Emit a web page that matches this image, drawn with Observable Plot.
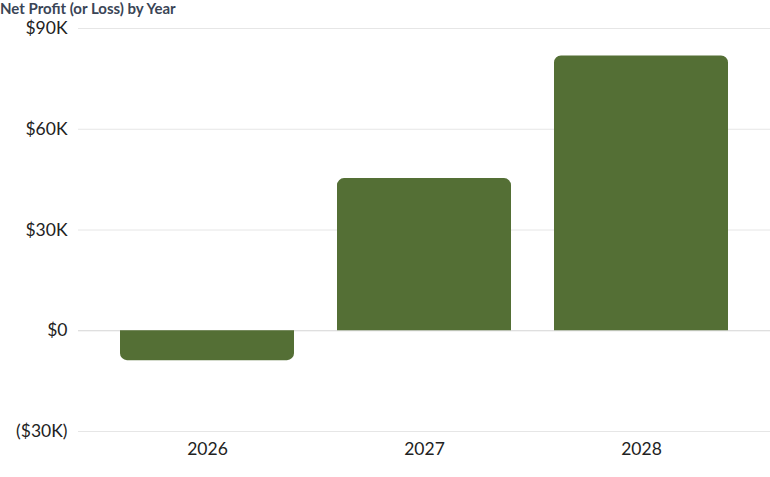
<!DOCTYPE html>
<html>
<head>
<meta charset="utf-8">
<script src="https://cdn.jsdelivr.net/npm/d3@7"></script>
<script src="https://cdn.jsdelivr.net/npm/@observablehq/plot@0.6"></script>
<style>
  html, body { margin: 0; padding: 0; background: #fff; }
  #title { font-family: Lato, "Open Sans", sans-serif; font-weight: 700; font-size: 15px; color: #3a4556; height: 18px; line-height: 16px; padding-left: 0; white-space: nowrap; }
  svg { display: block; }
</style>
</head>
<body>
<div id="title">Net Profit (or Loss) by Year</div>
<div id="chart"></div>
<script>
const years = ["2026", "2027", "2028"];
const netProfit = [-8900, 45300, 81800];
const yTicks = [-30000, 0, 30000, 60000, 90000];

const data = years.map((year, i) => ({year, value: netProfit[i]}));
const fmt = v => v < 0 ? `($${Math.abs(v) / 1000}K)` : v === 0 ? "$0" : `$${v / 1000}K`;

const chart = Plot.plot({
  width: 770,
  height: 459,
  marginTop: 10,
  marginBottom: 46,
  marginLeft: 78,
  marginRight: 0,
  style: {fontFamily: "Lato, 'Open Sans', sans-serif", fontSize: "17.5px", color: "#222"},
  x: {domain: years, paddingInner: 0.2, paddingOuter: 0.1, insetLeft: 20, insetRight: 21, label: null, tickSize: 0, tickPadding: 11},
  y: {domain: [-30000, 90000], ticks: yTicks, tickFormat: fmt, label: null, tickSize: 0, tickPadding: 11},
  marks: [
    Plot.ruleY(yTicks.filter(d => d !== 0), {stroke: "#e6e6e6", strokeWidth: 1}),
    Plot.ruleY([0], {stroke: "#d4d4d4", strokeWidth: 1}),
    Plot.barY(data.filter(d => d.value >= 0), {x: "year", y: "value", fill: "#546f35", ry1: 7}),
    Plot.barY(data.filter(d => d.value < 0), {x: "year", y: "value", fill: "#546f35", ry2: 7})
  ]
});
document.getElementById("chart").appendChild(chart);
</script>
</body>
</html>
